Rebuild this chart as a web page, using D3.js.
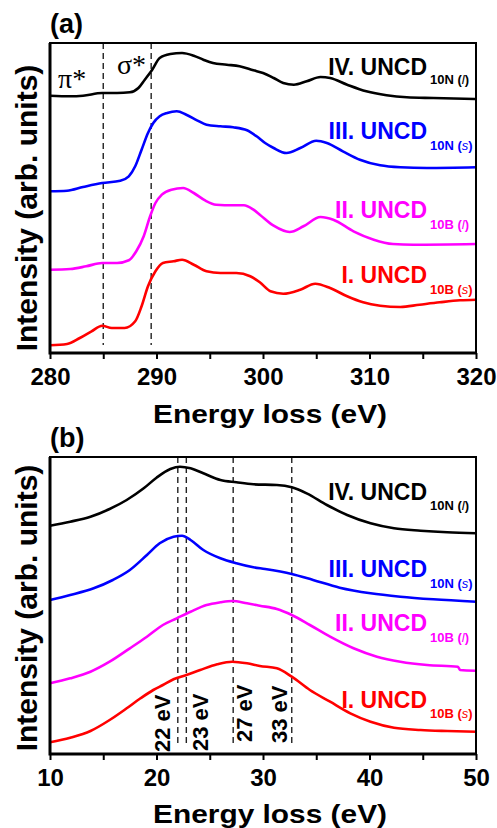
<!DOCTYPE html>
<html>
<head>
<meta charset="utf-8">
<script src="https://cdn.jsdelivr.net/npm/d3@7"></script>
<style>
  html, body { margin: 0; padding: 0; background: #fff; }
  svg { display: block; }
</style>
</head>
<body>
<div id="chart"></div>
<script>
// ============ data: panel (a) core-loss, 280-320 eV ============
const aTicks = [280, 290, 300, 310, 320];
const aMinorTicks = [285, 295, 305, 315];
const aMarkers = [285, 289.5];

// [energy (eV), intensity (arb. units)]
const aIV = [[280,257.3],[281.9,256.7],[283.1,257.3],[284.9,260],[286.3,260],[287.5,260.7],[288.3,265],[288.9,273.3],[289.6,283.3],[290.3,295],[291.3,299],[292.4,300],[293.5,297.3],[294.4,293.3],[295.3,290],[296.6,288.3],[297.8,286.7],[299.1,282.7],[300,280],[301,275],[301.9,270],[302.9,268.3],[304.1,271.7],[305.4,276],[306.3,275],[307.9,268.3],[309.7,261.7],[311.6,257.7],[313.5,255.7],[316,255],[320,254]];
const aIII = [[280,161.7],[281.6,162.3],[283.1,166],[284.9,170],[286.6,172.3],[287.4,176.7],[288,186.7],[288.6,203.3],[289.2,220],[289.7,230],[290.3,236.7],[291,240],[291.9,241.7],[292.8,238.3],[293.8,232.7],[294.7,228.3],[296,226.7],[297.2,225.7],[298.5,222.7],[299.4,216.7],[300.2,210],[301,205],[302.2,200],[303.5,205],[305,212.3],[306,210],[307.5,201.7],[309.1,193.3],[311,187.7],[312.9,185.7],[315.4,185],[320,185.7]];
const aII = [[280,83.3],[281.9,84],[283.4,86.7],[284.9,90],[286.3,90],[287.4,92.7],[288.1,101.7],[288.8,116.7],[289.4,136.7],[289.9,150],[290.5,158.3],[291.4,163.3],[292.5,165],[293.5,160],[294.6,152.3],[295.6,148.3],[297.2,147.7],[298.2,147.7],[299.1,143.3],[299.7,138.3],[301,127.3],[302.5,121],[303.8,126.7],[305.4,136],[306.6,133.3],[308.5,121.7],[310.4,113.3],[312.2,109],[314.1,108.3],[320,109]];
const aI = [[280,7.7],[281.6,9],[282.8,15],[283.9,21.7],[284.9,27.3],[285.8,25],[287,25],[288,31.7],[288.6,46.7],[289.2,66.7],[289.9,81.7],[290.6,90],[291.6,91.7],[292.4,93.3],[293.5,88.3],[294.7,81.7],[296,80],[297.5,80],[298.8,76.7],[299.7,70.7],[300.7,61.7],[301.9,59.3],[303.5,63.3],[304.9,69.3],[306.3,65],[307.9,56.7],[309.4,50.7],[311,47.3],[312.9,46],[314.7,48.3],[316.6,50.7],[318.5,52.7],[320,53.3]];

// ============ data: panel (b) plasmon region, 10-50 eV ============
const bTicks = [10, 20, 30, 40, 50];
const bMinorTicks = [15, 25, 35, 45];
const bMarkers = [22, 22.8, 27.2, 32.7];
const bMarkerLabels = ['22 eV', '23 eV', '27 eV', '33 eV'];

const bIV = [[10,228.3],[11.9,232.3],[13.8,237.3],[15.6,245],[17.2,254],[18.8,265.7],[20,276.3],[21.3,285],[22.2,287.3],[23.2,285.7],[24.4,280.7],[26,274],[27.5,271.7],[29.1,269.7],[31.3,269],[32.7,266.7],[34.1,260.7],[36,249],[37.9,239],[40.1,230.7],[42.3,225.7],[44.8,223.3],[47.3,221.7],[50,220.7]];
const bIII = [[10,154],[11.9,159],[14.1,165.7],[15.9,174],[17.5,184],[19.1,199],[20.3,210.7],[21.6,217.3],[22.4,218.3],[23.2,214],[24.4,204],[26,195.7],[27.5,190.7],[29.1,186.7],[30.2,185],[32.7,180],[34.7,174],[37.2,166.3],[40.1,160.7],[42.9,157.3],[46,154.7],[50,152.3]];
const bII = [[10,70.7],[11.9,75.7],[13.8,82.3],[15.6,92.3],[17.5,105.7],[19.1,117.3],[20.6,129],[21.9,135.7],[23.2,142.3],[24.7,149],[26,151.7],[27.1,153],[28.5,150.7],[29.7,148.3],[31.3,145],[32.7,139],[34.4,129],[36.3,117.3],[38.5,105.7],[40.7,97.3],[42.9,92.3],[45.4,89],[48.3,87.3],[48.5,84],[50,83.3]];
const bI = [[10,11.7],[11.9,16.3],[13.8,23],[15.6,34],[17.2,45.7],[18.5,55.7],[19.7,64],[20.6,69],[21.6,74.7],[22.8,79],[24.1,84],[25.7,89.7],[27.1,92.3],[28.5,90.7],[29.7,88],[31.3,85.7],[32.7,77.3],[34.4,64],[36.3,52.3],[38.2,40.7],[40.1,32.3],[42.3,26.3],[44.8,24],[47.3,23],[50,22.3]];

// series names (shared by both panels)
const seriesNames = ['IV. UNCD', 'III. UNCD', 'II. UNCD', 'I. UNCD'];
const seriesSubs = [['10N (', 'l', ')'], ['10N (', 's', ')'], ['10B (', 'l', ')'], ['10B (', 's', ')']];
const seriesColors = ['#000000', '#0000ff', '#ff00ff', '#ff0000'];

// ============ layout ============
const W = 497, H = 828;
const left = 50, right = 476;
const SANS = '"Liberation Sans", Arial, sans-serif';
const SERIF = '"Liberation Serif", "Times New Roman", serif';

const svg = d3.select('#chart').append('svg')
  .attr('width', W).attr('height', H)
  .style('font-family', SANS)
  .style('font-weight', 'bold');

function drawPanel(p) {
  const x = d3.scaleLinear().domain(p.xDomain).range([left, right]);
  const y = d3.scaleLinear().domain(p.yDomain).range([p.bottom, p.top]);
  const g = svg.append('g');

  // dashed marker lines
  g.selectAll('line.marker')
    .data(p.markers)
    .join('line')
    .attr('x1', d => x(d)).attr('x2', d => x(d))
    .attr('y1', p.top).attr('y2', p.bottom - p.markerGap)
    .attr('stroke', '#222')
    .attr('stroke-width', 1.4)
    .attr('stroke-dasharray', '6,4');

  // spectra
  const line = d3.line()
    .x(d => x(d[0]))
    .y(d => y(d[1]))
    .curve(d3.curveMonotoneX);

  g.selectAll('path.spec')
    .data(p.series)
    .join('path')
    .attr('fill', 'none')
    .attr('stroke', (d, i) => seriesColors[i])
    .attr('stroke-width', 2.6)
    .attr('stroke-linejoin', 'round')
    .attr('d', line);

  // frame
  g.append('rect')
    .attr('x', left).attr('y', p.top)
    .attr('width', right - left).attr('height', p.bottom - p.top)
    .attr('fill', 'none').attr('stroke', '#000').attr('stroke-width', 2);
  g.append('path')
    .attr('d', `M${left},${p.top}V${p.bottom}H${right}`)
    .attr('fill', 'none').attr('stroke', '#000').attr('stroke-width', 3);

  // x axis: major + minor ticks
  const axis = g.append('g')
    .attr('transform', `translate(0,${p.bottom})`)
    .call(d3.axisBottom(x).tickValues(p.ticks).tickSize(6).tickPadding(9).tickFormat(d3.format('d')));
  axis.select('.domain').remove();
  axis.selectAll('.tick line').attr('stroke-width', 2);
  axis.selectAll('.tick text')
    .attr('fill', '#000')
    .style('font-size', '24px').style('font-family', SANS).style('font-weight', 'bold');

  const minor = g.append('g')
    .attr('transform', `translate(0,${p.bottom})`)
    .call(d3.axisBottom(x).tickValues(p.minorTicks).tickSize(6).tickFormat(''));
  minor.select('.domain').remove();
  minor.selectAll('.tick line').attr('stroke-width', 2);

  // axis titles
  g.append('text')
    .attr('x', 270).attr('y', p.xTitleY)
    .attr('text-anchor', 'middle')
    .style('font-size', '26px')
    .attr('textLength', 234).attr('lengthAdjust', 'spacingAndGlyphs')
    .text('Energy loss (eV)');

  g.append('text')
    .attr('transform', `translate(37,${p.yTitleY}) rotate(-90)`)
    .attr('text-anchor', 'middle')
    .style('font-size', '30px')
    .text('Intensity (arb. units)');

  // panel letter
  g.append('text')
    .attr('x', 50).attr('y', p.letterY)
    .style('font-size', '27px')
    .text(p.letter);

  // series labels
  const lab = g.selectAll('g.lab')
    .data(seriesNames)
    .join('g')
    .attr('fill', (d, i) => seriesColors[i]);
  lab.append('text')
    .attr('x', 427).attr('y', (d, i) => p.labelY[i])
    .attr('text-anchor', 'end')
    .style('font-size', '23px')
    .text(d => d);
  const sub = lab.append('text')
    .attr('x', 430).attr('y', (d, i) => p.labelY[i] + p.subDy[i])
    .style('font-size', '13px');
  sub.append('tspan').text((d, i) => seriesSubs[i][0]);
  sub.append('tspan').style('font-style', 'italic').style('font-weight', 'normal').text((d, i) => seriesSubs[i][1]);
  sub.append('tspan').text((d, i) => seriesSubs[i][2]);

  return { x, y, g };
}

// ============ panel (a) ============
const pa = drawPanel({
  xDomain: [280, 320], yDomain: [0, 310],
  top: 43, bottom: 353,
  ticks: aTicks, minorTicks: aMinorTicks,
  markers: aMarkers, markerGap: 8,
  series: [aIV, aIII, aII, aI],
  xTitleY: 423, yTitleY: 208, letter: '(a)', letterY: 33,
  labelY: [75, 139, 218, 283], subDy: [9, 11, 11, 11]
});

pa.g.append('text')
  .attr('x', 58).attr('y', 88)
  .style('font-family', SERIF).style('font-weight', 'normal').style('font-size', '28px')
  .text('π*');
pa.g.append('text')
  .attr('x', 117).attr('y', 74)
  .style('font-family', SERIF).style('font-weight', 'normal').style('font-size', '28px')
  .text('σ*');

// ============ panel (b) ============
const pb = drawPanel({
  xDomain: [10, 50], yDomain: [0, 297],
  top: 457, bottom: 754,
  ticks: bTicks, minorTicks: bMinorTicks,
  markers: bMarkers, markerGap: 7,
  series: [bIV, bIII, bII, bI],
  xTitleY: 823, yTitleY: 608, letter: '(b)', letterY: 447,
  labelY: [500, 577, 631, 708], subDy: [10, 11, 11, 10]
});

// rotated energy labels next to the dashed lines
const markLabelPos = [[170, 752], [208, 751], [252, 742], [287, 743]];
pb.g.selectAll('text.mk')
  .data(bMarkerLabels)
  .join('text')
  .attr('transform', (d, i) => `translate(${markLabelPos[i][0]},${markLabelPos[i][1]}) rotate(-90)`)
  .style('font-size', '22px')
  .attr('fill', '#000')
  .text(d => d);
</script>
</body>
</html>
